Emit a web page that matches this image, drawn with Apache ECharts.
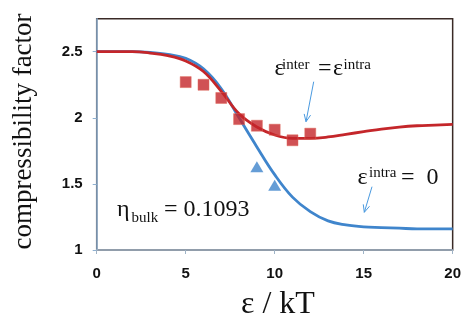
<!DOCTYPE html>
<html><head><meta charset="utf-8">
<script src="https://cdn.jsdelivr.net/npm/echarts@6/dist/echarts.min.js"></script>
<style>html,body{margin:0;padding:0;background:#fff}#c{width:464px;height:323px}</style>
</head><body><div id="c"></div>
<script>
// ---- data ----
const xTicks = [0, 5, 10, 15, 20];
const yTicks = [1, 1.5, 2, 2.5];
const curveX = [0,1,2,3,4,5,6,7,8,9,10,11,12,13,14,15,16,17,18,19,20];
const interEqIntraCurve = [2.50,2.50,2.50,2.49,2.47,2.43,2.35,2.20,2.03,1.93,1.87,1.845,1.845,1.855,1.875,1.895,1.915,1.93,1.94,1.945,1.95];
const intraZeroCurve = [2.50,2.50,2.50,2.495,2.48,2.45,2.37,2.22,2.00,1.78,1.57,1.40,1.29,1.22,1.19,1.175,1.17,1.165,1.16,1.16,1.16];
const squareX = [5,6,7,8,9,10,11,12];
const squareY = [2.27,2.25,2.15,1.99,1.94,1.91,1.83,1.88];
const triangleX = [9,10];
const triangleY = [1.63,1.49];

const RED = '#c4262a', BLUE = '#3f85cc', ARROW = '#4a9ae0';
const zip = (a, b) => a.map((v, i) => [v, b[i]]);

const serif = '"Liberation Serif","DejaVu Serif",serif';
function txt(str, x, baseline, fs, extra) {
  return { type: 'text', z: 100, style: Object.assign({
    text: str, x: x, y: baseline - 0.34 * fs, verticalAlign: 'middle', textAlign: 'left',
    fontFamily: serif, fontSize: fs, fill: '#111'
  }, extra || {}) };
}
function arrow(x1, y1, x2, y2) {
  const a = Math.atan2(y2 - y1, x2 - x1), L = 8, w = 0.42;
  return [
    { type: 'line', z: 100, shape: { x1, y1, x2, y2 }, style: { stroke: ARROW, lineWidth: 1 } },
    { type: 'polyline', z: 100, shape: { points: [
      [x2 - L * Math.cos(a - w), y2 - L * Math.sin(a - w)], [x2, y2],
      [x2 - L * Math.cos(a + w), y2 - L * Math.sin(a + w)]] },
      style: { stroke: ARROW, lineWidth: 1, fill: null } }
  ];
}

const chart = echarts.init(document.getElementById('c'), null, { renderer: 'canvas' });
const grid = { left: 96.7, right: 10.7, top: 18.65, bottom: 73, show: true, borderColor: '#3a2a26', borderWidth: 1.5, backgroundColor: 'transparent' };
const tickFont = { fontFamily: '"Liberation Sans",Arial,sans-serif', fontWeight: 'bold', fontSize: 15, color: '#111' };

chart.setOption({
  animation: false,
  backgroundColor: '#fff',
  grid: grid,
  xAxis: {
    type: 'value', min: 0, max: 20, interval: 5,
    axisLine: { lineStyle: { color: '#9fb3c6', width: 1.5 } },
    axisTick: { show: true, length: 4, lineStyle: { color: '#9fb3c6' } },
    axisLabel: Object.assign({ margin: 16, customValues: xTicks }, tickFont),
    splitLine: { show: false }
  },
  yAxis: {
    type: 'value', min: 1, max: 2.75, interval: 0.5,
    axisLine: { show: true, lineStyle: { color: '#8fb0d0', width: 1.5 } },
    axisTick: { show: true, length: 4, customValues: yTicks, lineStyle: { color: '#8fb0d0' } },
    axisLabel: Object.assign({ margin: 14, customValues: yTicks }, tickFont),
    splitLine: { show: false }
  },
  series: [
    { type: 'line', data: zip(curveX, intraZeroCurve), smooth: 0.4, showSymbol: false,
      lineStyle: { color: BLUE, width: 2.8 }, z: 2 },
    { type: 'line', data: zip(curveX, interEqIntraCurve), smooth: 0.4, showSymbol: false,
      lineStyle: { color: RED, width: 2.8 }, z: 3 },
    { type: 'scatter', data: zip(squareX, squareY), symbol: 'rect', symbolSize: 11,
      itemStyle: { color: RED, borderColor: '#e06a5a', borderWidth: 0.6 }, z: 4 },
    { type: 'scatter', data: zip(triangleX, triangleY), symbol: 'triangle', symbolSize: [13, 11],
      itemStyle: { color: BLUE }, z: 4 }
  ],
  graphic: [
    // axis titles
    { type: 'text', z: 100, x: 24, y: 131.5, rotation: Math.PI / 2,
      style: { text: 'compressibility factor', fontFamily: serif, fontSize: 27, fill: '#111',
               textAlign: 'center', verticalAlign: 'middle' } },
    txt('ε / kT', 241, 315, 32),
    // eta bulk
    txt('η', 117, 218, 24),
    txt('bulk', 131.5, 223, 15),
    txt('= 0.1093', 164, 218, 24),
    // label 1
    txt('ε', 274.5, 77, 24),
    txt('inter', 282, 70, 15),
    txt('=', 318, 77, 24),
    txt('ε', 333, 77, 24),
    txt('intra', 343.5, 70, 15),
    // label 2
    txt('ε', 357.5, 186, 24),
    txt('intra', 369, 178.5, 15),
    txt('=', 401, 186, 24),
    txt('0', 426.5, 186, 24),
    ...arrow(313.7, 81.7, 306, 121.7),
    ...arrow(372, 186.7, 364.3, 212.3)
  ]
});
</script></body></html>
